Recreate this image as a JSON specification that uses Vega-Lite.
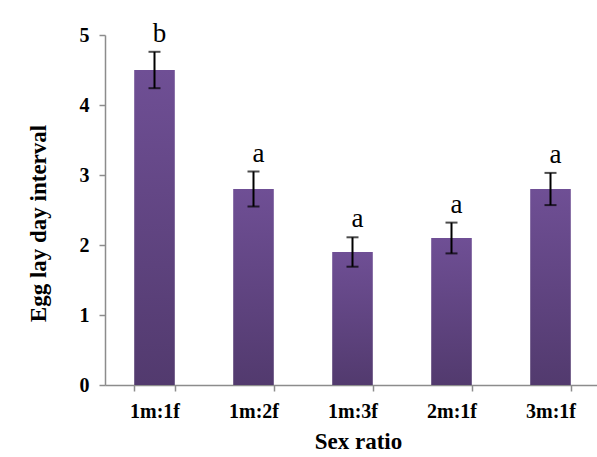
{
  "$schema": "https://vega.github.io/schema/vega-lite/v6.json",
  "autosize": {"type": "none"},
  "padding": {"left": 105, "top": 35, "right": 0, "bottom": 72},
  "width": 495,
  "height": 350,
  "background": "white",
  "config": {
    "view": {"stroke": null},
    "font": "Liberation Serif"
  },
  "data": {
    "values": [
      {"ratio": "1m:1f", "mean": 4.5, "lower": 4.24, "upper": 4.76, "group": "b"},
      {"ratio": "1m:2f", "mean": 2.8, "lower": 2.55, "upper": 3.05, "group": "a"},
      {"ratio": "1m:3f", "mean": 1.9, "lower": 1.69, "upper": 2.11, "group": "a"},
      {"ratio": "2m:1f", "mean": 2.1, "lower": 1.88, "upper": 2.32, "group": "a"},
      {"ratio": "3m:1f", "mean": 2.8, "lower": 2.57, "upper": 3.03, "group": "a"}
    ]
  },
  "encoding": {
    "x": {
      "field": "ratio",
      "type": "nominal",
      "sort": null,
      "scale": {"paddingInner": 0.59, "paddingOuter": 0.295},
      "axis": {
        "title": "Sex ratio",
        "labelAngle": 0,
        "labelFont": "Liberation Serif",
        "labelFontSize": 20,
        "labelFontWeight": "bold",
        "labelColor": "black",
        "labelPadding": 10,
        "titleFont": "Liberation Serif",
        "titleFontSize": 23,
        "titleFontWeight": "bold",
        "titleColor": "black",
        "titleBaseline": "alphabetic",
        "titleX": 253,
        "titleY": 63,
        "domainColor": "#8c8c8c",
        "domainWidth": 1.5,
        "tickColor": "#8c8c8c",
        "tickWidth": 1.5,
        "tickSize": 6,
        "tickBand": "extent",
        "grid": false
      }
    }
  },
  "layer": [
    {
      "mark": {
        "type": "bar",
        "color": {
          "gradient": "linear",
          "x1": 0, "y1": 0, "x2": 0, "y2": 1,
          "stops": [
            {"offset": 0, "color": "#6f4f95"},
            {"offset": 1, "color": "#523a6e"}
          ]
        }
      },
      "encoding": {
        "y": {
          "field": "mean",
          "type": "quantitative",
          "scale": {"domain": [0, 5], "nice": false},
          "axis": {
            "title": "Egg lay day interval",
            "values": [0, 1, 2, 3, 4, 5],
            "format": "d",
            "labelFont": "Liberation Serif",
            "labelFontSize": 20,
            "labelFontWeight": "bold",
            "labelColor": "black",
            "labelPadding": 10,
            "titleFont": "Liberation Serif",
            "titleFontSize": 23,
            "titleFontWeight": "bold",
            "titleColor": "black",
            "titleX": -67,
            "titleY": 188,
            "titleAngle": -90,
            "titleAlign": "center",
            "titleBaseline": "middle",
            "domainColor": "#8c8c8c",
            "domainWidth": 1.5,
            "tickColor": "#8c8c8c",
            "tickWidth": 1.5,
            "tickSize": 6,
            "grid": false
          }
        }
      }
    },
    {
      "mark": {"type": "rule", "color": "black", "strokeWidth": 2},
      "encoding": {
        "y": {"field": "lower", "type": "quantitative"},
        "y2": {"field": "upper"}
      }
    },
    {
      "mark": {"type": "tick", "color": "black", "thickness": 2, "size": 12, "orient": "horizontal"},
      "encoding": {
        "y": {"field": "upper", "type": "quantitative"}
      }
    },
    {
      "mark": {"type": "tick", "color": "black", "thickness": 2, "size": 12, "orient": "horizontal"},
      "encoding": {
        "y": {"field": "lower", "type": "quantitative"}
      }
    },
    {
      "mark": {"type": "text", "font": "Liberation Serif", "fontSize": 27, "color": "black", "baseline": "alphabetic", "dy": -10, "dx": 5},
      "encoding": {
        "y": {"field": "upper", "type": "quantitative"},
        "text": {"field": "group"}
      }
    }
  ]
}
